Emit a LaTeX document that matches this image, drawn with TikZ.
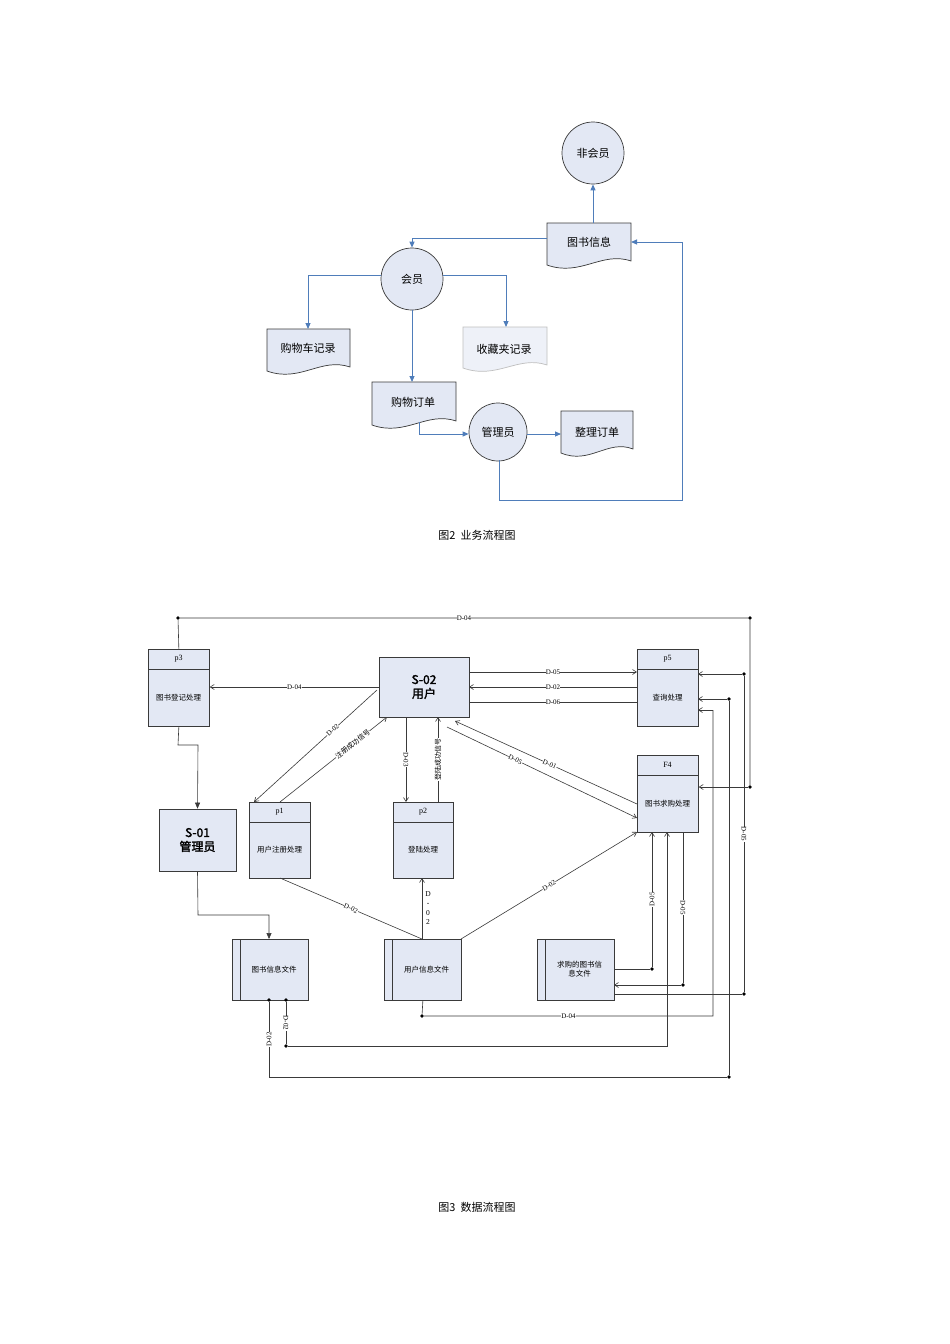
\documentclass[tikz,border=0pt]{standalone}
\usepackage{fontspec}
\setmainfont{Liberation Serif}
\newfontfamily\cjk{Noto Sans CJK SC}[AutoFakeBold=2]
\usetikzlibrary{arrows.meta,calc}
\definecolor{fillb}{HTML}{E3E8F4}
\definecolor{blu}{HTML}{4F7DBA}
\definecolor{ln}{HTML}{3A3A3A}
\tikzset{
 x=1pt,y=-1pt,
 bl/.style={draw=blu,line width=0.9pt},
 bla/.style={bl,-{Triangle[length=6pt,width=5pt]}},
 circ/.style={circle,draw=ln,fill=fillb,line width=0.7pt,font=\cjk\fontsize{11}{12}\selectfont},
 doc/.style={draw=ln,fill=fillb,line width=0.7pt},
 ln/.style={draw=ln,line width=0.6pt},
 la/.style={ln,-{Straight Barb[length=4pt,width=5pt]}},
 fa/.style={ln,-{Triangle[length=6pt,width=5pt]}},
 lab/.style={fill=white,inner sep=0.3pt,font=\fontsize{7}{8}\selectfont},
 clab/.style={fill=white,inner sep=0.3pt,font=\cjk\fontsize{7}{8}\selectfont},
 dot/.style={circle,fill=black,inner sep=0pt,minimum size=3.6pt},
 bx/.style={draw=ln,fill=fillb,line width=0.7pt},
 txt/.style={font=\cjk\fontsize{7.5}{9}\selectfont,align=center},
}
\newcommand\docn[6]{%
 \path[doc,draw=#6] (#1,#2) -- (#3,#2) -- (#3,#4-6) .. controls ({#3-0.35*(#3-#1)},#4-16) and ({#1+0.4*(#3-#1)},#4+10) .. (#1,#4-2) -- cycle;}
\newcommand\proc[7]{% name x1 y1 x2 y2 head text
 \node[bx,minimum width=#4-#2,minimum height=#5-#3,inner sep=0,anchor=north west] (#1) at (#2,#3) {};
 \draw[ln] (#2,#3+20) -- (#4,#3+20);
 \node[font=\fontsize{8}{9}\selectfont] at ({(#2+#4)/2},#3+10) {#6};
 \node[txt] at ({(#2+#4)/2},{(#3+20+#5)/2}) {#7};}
\newcommand\filen[6]{% name x1 y1 x2 y2 text
 \node[bx,minimum width=#4-#2,minimum height=#5-#3,inner sep=0,anchor=north west] (#1) at (#2,#3) {};
 \draw[ln] (#2+8,#3) -- (#2+8,#5);
 \node[txt] at ({(#2+8+#4)/2},{(#3+#5)/2}) {#6};}
\begin{document}
\begin{tikzpicture}
\useasboundingbox[fill=white] (0,0) rectangle (950,1344);
% ---------- Figure 2 ----------
\node[circ,minimum size=62pt] (fh) at (593,153) {非会员};
\node[circ,minimum size=62pt] (hy) at (412,279) {会员};
\node[circ,minimum size=58pt] (gl) at (498,432) {管理员};
\docn{547}{223}{631}{267}{}{ln}
\node[font=\cjk\fontsize{11}{12}\selectfont] (ts) at (589,242) {图书信息};
\docn{267}{329}{350}{373}{}{ln}
\node[font=\cjk\fontsize{11}{12}\selectfont] (gw) at (308,348) {购物车记录};
\path[doc,draw=gray!50,fill=fillb!60] (463,327) -- (547,327) -- (547,365) .. controls (518,355) and (497,380) .. (463,368) -- cycle;
\node[font=\cjk\fontsize{11}{12}\selectfont] (sc) at (504,349) {收藏夹记录};
\docn{372}{382}{456}{427}{}{ln}
\node[font=\cjk\fontsize{11}{12}\selectfont] (dd) at (413,402) {购物订单};
\docn{561}{411}{633}{455}{}{ln}
\node[font=\cjk\fontsize{11}{12}\selectfont] (zl) at (597,432) {整理订单};
\draw[bla] (593,223) -- (fh.south);
\draw[bla] (547,238) -- (412,238) -- (hy.north);
\draw[bla] (hy.west|-0,275) -- (308,275) -- (308,329);
\draw[bla] (hy.east|-0,275) -- (506,275) -- (506,327);
\draw[bla] (hy.south) -- (412,382);
\draw[bla] (419,422) -- (419,434) -- (gl.west|-0,434);
\draw[bla] (gl.east|-0,434) -- (561,434);
\draw[bla] (499,460) -- (499,500) -- (682,500) -- (682,242) -- (631,242);
\node[font=\cjk\fontsize{11}{12}\selectfont] (c2) at (477,535) {图2\ \ 业务流程图};
% ---------- Figure 3 ----------
\proc{p3}{148}{649}{209}{726}{p3}{图书登记处理}
\proc{p5}{637}{649}{698}{726}{p5}{查询处理}
\proc{f4}{637}{755}{698}{832}{F4}{图书求购处理}
\proc{p1}{249}{802}{310}{878}{p1}{用户注册处理}
\proc{p2}{393}{802}{453}{878}{p2}{登陆处理}
\node[bx,minimum width=90pt,minimum height=60pt,align=center,font=\cjk\bfseries\fontsize{12}{14}\selectfont] (s2) at (424,687) {S-02\\用户};
\node[bx,minimum width=77pt,minimum height=62pt,align=center,font=\cjk\bfseries\fontsize{12}{14}\selectfont] (s1) at (197.5,840) {S-01\\管理员};
\filen{fb}{232}{939}{308}{1000}{图书信息文件}
\filen{fu}{384}{939}{461}{1000}{用户信息文件}
\filen{fq}{537}{939}{614}{1000}{求购的图书信\\息文件}
% top D-04
\node[dot] (t1) at (178,618) {};
\node[dot] (t2) at (750,618) {};
\node[dot] (t3) at (750,787) {};
\draw[ln] (p3.north) -- (t1) -- node[lab]{D-04} (t2) -- (t3);
\draw[la] (t3) -- (f4.east|-t3);
\draw[la] (379,687) -- node[lab]{D-04} (p3.east|-0,687);
\draw[fa] (p3.south) -- (178,745) -- (198,745) -- (s1.north);
\draw[fa] (s1.south) -- (198,915) -- (269,915) -- (269,939);
% S-02 to p1,p2
\draw[la] (377,690) -- node[lab,sloped,pos=0.36]{D-02} (254,802);
\draw[la] (280,802) -- node[clab,sloped,pos=0.68]{注册成功信号} (387,717);
\draw[la] (406,717) -- node[lab,sloped]{D-03} (406,802);
\draw[la] (438,802) -- node[clab,sloped]{登陆成功信号} (438,717);
% S-02 to p5
\draw[la] (469,672) -- node[lab]{D-05} (637,672);
\draw[la] (637,687) -- node[lab]{D-02} (469,687);
\draw[ln] (469,702) -- node[lab]{D-06} (637,702);
% S-02 to F4
\draw[la] (637,804) -- node[lab,sloped,pos=0.48]{D-01} (455,721);
\draw[la] (447,727) -- node[lab,sloped,pos=0.36]{D-05} (637,818);
\draw[la] (461,939) -- node[lab,sloped]{D-02} (637,832);
% p1, p2 to user file
\draw[ln] (280,878) -- node[lab,sloped]{D-02} (422,939);
\draw[la] (422,939) -- (422,878);
\node[font=\fontsize{7.5}{9.5}\selectfont,align=center,fill=white,inner sep=0.5pt] at (428,908) {D\\-\\0\\2};
% D-04 bottom
\node[dot] (d1) at (422,1016) {};
\draw[ln] (fu.south) -- (d1) -- node[lab]{D-04} (713,1016) -- (713,710);
\draw[la] (713,710) -- (698,710);
% x=744
\node[dot] (e1) at (744,674) {};
\node[dot] (e2) at (744,994) {};
\draw[la] (e1) -- (698,674);
\draw[ln] (e1) -- node[lab,sloped]{D-05} (e2) -- (614,994);
% x=729
\node[dot] (g1) at (729,699) {};
\node[dot] (g2) at (729,1077) {};
\node[dot] (g3) at (269,1000) {};
\draw[la] (g1) -- (698,699);
\draw[ln] (g1) -- (g2) -- (269,1077) -- node[lab,sloped]{D-02} (g3);
% x=667
\node[dot] (h1) at (286,1046) {};
\node[dot] (h2) at (286,1000) {};
\draw[la] (h2) -- node[lab,sloped]{D-02} (h1) -- (667,1046) -- (667,832);
% x=652
\node[dot] (k1) at (652,969) {};
\draw[la] (614,969) -- (k1) -- node[lab,sloped]{D-05} (652,832);
% x=682
\node[dot] (m1) at (683,985) {};
\draw[la] (683,832) -- node[lab,sloped]{D-05} (m1) -- (614,985);
\node[font=\cjk\fontsize{11}{12}\selectfont] (c3) at (477,1207) {图3\ \ 数据流程图};
\end{tikzpicture}
\end{document}
